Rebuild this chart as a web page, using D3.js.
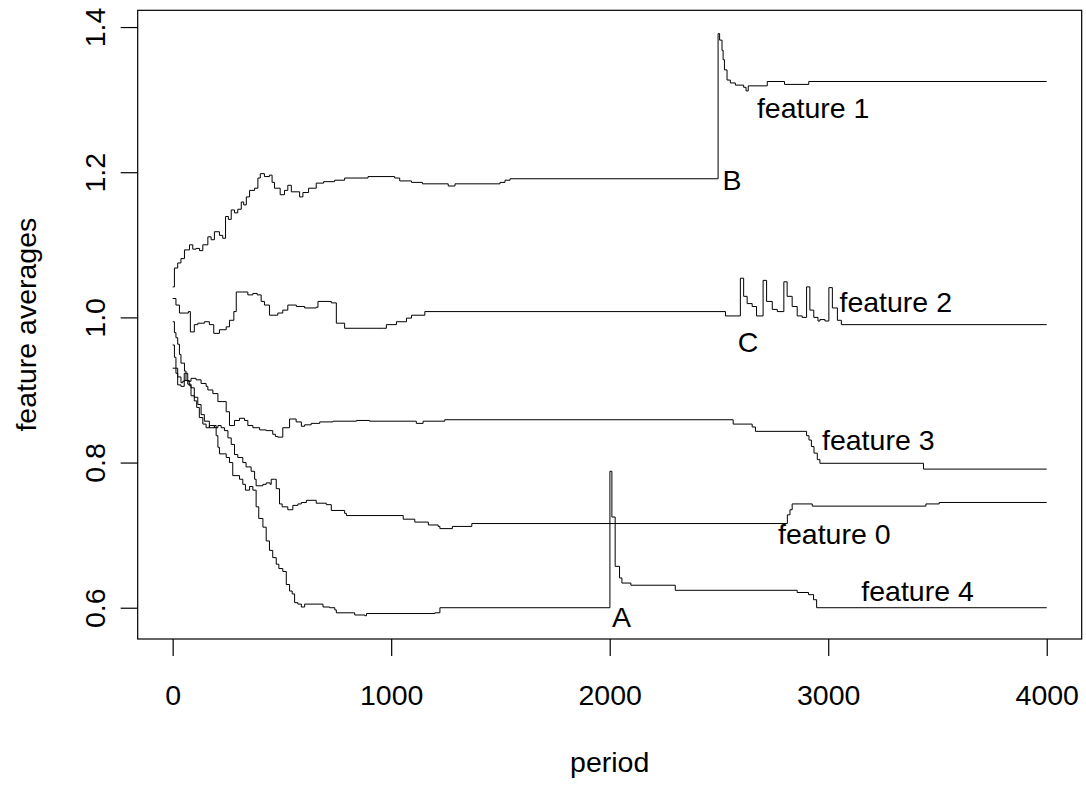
<!DOCTYPE html>
<html>
<head>
<meta charset="utf-8">
<script src="https://cdn.jsdelivr.net/npm/d3@7"></script>
<style>
  html, body { margin: 0; padding: 0; background: #fff; }
  svg { display: block; }
  text { font-family: "Liberation Sans", Arial, Helvetica, sans-serif; fill: #000; }
</style>
</head>
<body>
<svg id="chart" width="1086" height="785"></svg>
<script>
// ---------- data (period, feature average) ----------
const feature0 = [[0,0.994],[8,0.979],[15,0.972],[23,0.963],[31,0.949],[38,0.937],[54,0.926],[61,0.913],[76,0.906],[84,0.892],[99,0.885],[110,0.876],[122,0.862],[138,0.853],[153,0.848],[168,0.851],[191,0.848],[207,0.851],[222,0.848],[237,0.844],[253,0.834],[268,0.825],[283,0.811],[298,0.807],[321,0.800],[336,0.794],[359,0.788],[375,0.777],[382,0.768],[413,0.770],[428,0.772],[446,0.770],[451,0.777],[466,0.777],[474,0.764],[489,0.743],[501,0.739],[527,0.735],[550,0.741],[573,0.743],[589,0.745],[612,0.748],[657,0.744],[703,0.742],[726,0.734],[787,0.730],[795,0.727],[1055,0.722],[1108,0.718],[1170,0.714],[1215,0.712],[1223,0.709],[1280,0.712],[1369,0.716],[2813,0.728],[2825,0.735],[2835,0.743],[2927,0.740],[3447,0.743],[3508,0.745],[4000,0.745]];

const feature1 = [[0,1.042],[8,1.068],[23,1.075],[38,1.081],[54,1.093],[77,1.100],[92,1.094],[107,1.095],[123,1.092],[138,1.100],[161,1.111],[176,1.107],[191,1.118],[214,1.113],[229,1.109],[242,1.139],[255,1.135],[268,1.148],[283,1.144],[298,1.149],[314,1.159],[325,1.155],[337,1.166],[352,1.175],[375,1.178],[390,1.192],[401,1.198],[420,1.194],[443,1.196],[455,1.186],[466,1.178],[492,1.169],[512,1.175],[527,1.182],[543,1.173],[581,1.166],[596,1.172],[622,1.178],[657,1.185],[691,1.187],[741,1.189],[787,1.192],[894,1.194],[1016,1.192],[1039,1.188],[1093,1.186],[1143,1.184],[1261,1.181],[1292,1.184],[1498,1.186],[1521,1.189],[1544,1.191],[2496,1.391],[2503,1.382],[2514,1.368],[2519,1.355],[2525,1.341],[2537,1.327],[2552,1.323],[2575,1.320],[2613,1.317],[2624,1.312],[2634,1.319],[2721,1.325],[2800,1.321],[2911,1.325],[4000,1.325]];

const feature2 = [[0,1.026],[15,1.017],[31,1.006],[61,1.006],[72,1.008],[81,0.980],[99,0.990],[115,0.992],[145,0.994],[168,0.990],[188,0.978],[214,0.983],[245,0.987],[260,0.996],[280,1.008],[291,1.035],[321,1.035],[344,1.031],[367,1.033],[387,1.031],[405,1.022],[420,1.017],[443,1.003],[481,1.006],[504,1.010],[527,1.017],[566,1.015],[604,1.013],[657,1.014],[665,1.022],[726,1.020],[749,0.992],[787,0.985],[963,0.985],[978,0.990],[1024,0.994],[1070,0.999],[1093,1.003],[1154,1.008],[2530,1.002],[2598,1.054],[2613,1.029],[2629,1.019],[2652,1.015],[2672,1.002],[2702,1.051],[2718,1.022],[2744,1.011],[2767,1.008],[2797,1.049],[2812,1.029],[2835,1.015],[2858,1.002],[2881,1.000],[2901,1.042],[2916,1.010],[2934,1.000],[2953,0.995],[2962,0.997],[2985,0.995],[3003,1.041],[3019,1.013],[3042,0.996],[3060,0.990],[4000,0.990]];

const feature3 = [[0,0.930],[15,0.923],[23,0.907],[38,0.905],[53,0.923],[69,0.912],[84,0.916],[107,0.914],[130,0.909],[153,0.905],[161,0.900],[184,0.895],[207,0.884],[230,0.884],[245,0.870],[260,0.851],[283,0.858],[306,0.861],[329,0.858],[344,0.851],[367,0.848],[398,0.845],[428,0.844],[458,0.839],[470,0.836],[481,0.835],[504,0.848],[535,0.860],[565,0.856],[589,0.850],[604,0.852],[634,0.854],[673,0.856],[734,0.857],[841,0.858],[901,0.857],[1108,0.857],[1115,0.854],[1146,0.857],[1245,0.859],[2565,0.853],[2652,0.849],[2667,0.843],[2901,0.837],[2912,0.831],[2923,0.822],[2935,0.813],[2950,0.804],[2962,0.799],[3436,0.791],[4000,0.791]];

const feature4 = [[0,0.962],[8,0.945],[15,0.930],[23,0.918],[38,0.910],[46,0.912],[53,0.913],[69,0.908],[84,0.903],[99,0.890],[115,0.880],[130,0.866],[145,0.857],[168,0.848],[191,0.851],[199,0.837],[207,0.821],[214,0.812],[237,0.812],[245,0.807],[260,0.800],[275,0.782],[290,0.782],[306,0.777],[321,0.770],[333,0.762],[352,0.767],[367,0.762],[382,0.739],[394,0.723],[413,0.711],[428,0.692],[443,0.679],[458,0.669],[474,0.660],[486,0.654],[504,0.650],[520,0.632],[535,0.623],[547,0.619],[558,0.607],[573,0.605],[589,0.601],[604,0.605],[642,0.605],[688,0.601],[719,0.600],[742,0.597],[749,0.593],[826,0.593],[833,0.590],[879,0.589],[887,0.592],[1200,0.593],[1223,0.600],[2001,0.788],[2010,0.725],[2025,0.657],[2045,0.641],[2056,0.634],[2097,0.631],[2300,0.624],[2858,0.621],[2910,0.618],[2933,0.611],[2947,0.600],[4000,0.600]];

const xTicks = [0, 1000, 2000, 3000, 4000];
const yTicks = [0.6, 0.8, 1.0, 1.2, 1.4];

const labelText = ["feature 1", "B", "feature 2", "C", "feature 3", "feature 0", "feature 4", "A"];
const labelPeriod = [2931, 2560, 3309, 2633, 3229, 3028, 3409, 2054];
const labelValue = [1.289, 1.190, 1.022, 0.966, 0.832, 0.702, 0.623, 0.587];

const xTitle = "period";
const yTitle = "feature averages";

// ---------- layout ----------
const svg = d3.select("#chart");
const W = 1086, H = 785;
const box = { left: 137.7, right: 1081.7, top: 10.3, bottom: 639 };
const FS = 28.5;

svg.append("rect").attr("width", W).attr("height", H).attr("fill", "#fff");

const series = [feature0, feature1, feature2, feature3, feature4];
const allX = series.flat().map(d => d[0]);
const allY = series.flat().map(d => d[1]);
const xExt = d3.extent(allX), yExt = d3.extent(allY);
const xPad = (xExt[1] - xExt[0]) * 0.04, yPad = (yExt[1] - yExt[0]) * 0.04;

const x = d3.scaleLinear().domain([xExt[0] - xPad, xExt[1] + xPad]).range([box.left, box.right]);
const y = d3.scaleLinear().domain([yExt[0] - yPad, yExt[1] + yPad]).range([box.bottom, box.top]);

// lines
const line = d3.line().x(d => x(d[0])).y(d => y(d[1])).curve(d3.curveStepAfter);
svg.append("g").selectAll("path").data(series).join("path")
  .attr("d", line)
  .attr("fill", "none")
  .attr("stroke", "#000")
  .attr("stroke-width", 1);

// box
svg.append("rect")
  .attr("x", box.left).attr("y", box.top)
  .attr("width", box.right - box.left).attr("height", box.bottom - box.top)
  .attr("fill", "none").attr("stroke", "#000").attr("stroke-width", 1.2);

// x axis
const gx = svg.append("g").attr("transform", `translate(0,${box.bottom})`)
  .call(d3.axisBottom(x).tickValues(xTicks).tickFormat(d3.format("d")).tickSize(17).tickSizeOuter(0));
gx.select(".domain").remove();
gx.selectAll(".tick line").attr("stroke", "#000").attr("stroke-width", 1.2);
gx.selectAll(".tick text").attr("y", 66).attr("dy", null)
  .style("font-size", FS + "px").attr("font-family", null);

// y axis
const gy = svg.append("g").attr("transform", `translate(${box.left},0)`)
  .call(d3.axisLeft(y).tickValues(yTicks).tickFormat(d3.format(".1f")).tickSize(17).tickSizeOuter(0));
gy.select(".domain").remove();
gy.selectAll(".tick line").attr("stroke", "#000").attr("stroke-width", 1.2);
gy.selectAll(".tick text")
  .attr("x", null).attr("dy", null)
  .attr("transform", "translate(-33,0) rotate(-90)")
  .attr("text-anchor", "middle")
  .style("font-size", FS + "px").attr("font-family", null);

// axis titles
svg.append("text")
  .attr("x", (box.left + box.right) / 2).attr("y", 772)
  .attr("text-anchor", "middle").style("font-size", FS + "px")
  .text(xTitle);
svg.append("text")
  .attr("transform", `translate(36,${(box.top + box.bottom) / 2}) rotate(-90)`)
  .attr("text-anchor", "middle").style("font-size", FS + "px")
  .text(yTitle);

// annotations
svg.append("g").selectAll("text").data(labelText).join("text")
  .attr("x", (d, i) => x(labelPeriod[i]))
  .attr("y", (d, i) => y(labelValue[i]))
  .attr("dy", "0.36em")
  .attr("text-anchor", "middle")
  .style("font-size", FS + "px")
  .text(d => d);
</script>
</body>
</html>
